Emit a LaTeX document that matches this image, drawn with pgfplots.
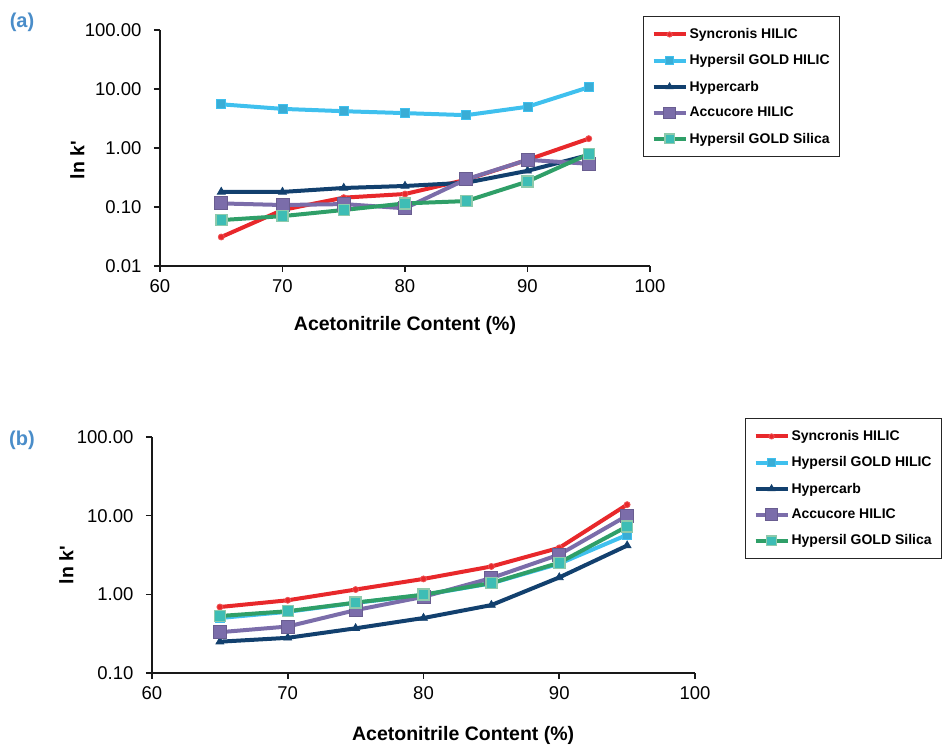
\documentclass[border=0pt]{standalone}
\usepackage{fontspec}
\setmainfont{Liberation Sans}
\newfontfamily\plainf{Liberation Sans}
\usepackage{pgfplots}
\pgfplotsset{compat=1.18}
\definecolor{cred}{HTML}{E8282B}
\definecolor{cblue}{HTML}{3FC0EE}
\definecolor{cnavy}{HTML}{12406E}
\definecolor{cpurp}{HTML}{7B6DAA}
\definecolor{cgreen}{HTML}{2F9F68}
\definecolor{cteal}{HTML}{3DBDB5}
\definecolor{cpanel}{HTML}{4A8DC9}
\pgfplotsset{
 myaxis/.style={
  scale only axis, xmin=60, xmax=100, xtick={60,70,80,90,100},
  axis x line*=bottom, axis y line*=left,
  axis line style={line width=2.2pt, black!90},
  tick style={line width=1.6pt, black!90},
  major tick length=6pt,
  tick align=outside,
  yminorticks=false,
  tick label style={font=\fontsize{18.5}{20}\selectfont},
  yticklabel style={xshift=-9pt},
  xticklabel style={yshift=-4pt},
  /pgf/number format/assume math mode=true,
  label style={font=\bfseries\fontsize{19.5}{22}\selectfont},
  every axis plot/.append style={line width=4pt},
  legend cell align=left,
  legend image code/.code={\draw[mark repeat=2,mark phase=2,##1,every mark/.append style={scale=0.88}] plot coordinates {(0pt,0pt)(16pt,0pt)(32pt,0pt)};},
  legend style={font=\bfseries\fontsize{14}{16}\selectfont, draw=black!85, line width=1.2pt, anchor=north west, row sep=10.5pt, inner xsep=8pt, inner ysep=10pt},
 },
 sred/.style={color=cred, mark=*, mark size=3pt, mark options={line width=0.8pt, fill=cred, draw=cred!80!white}},
 sblue/.style={color=cblue, mark=square*, mark size=4.5pt, mark options={line width=0.8pt, fill=cblue!90!black, draw=cblue}},
 snavy/.style={color=cnavy, mark=triangle*, mark size=4.5pt, mark options={line width=0.8pt, fill=cnavy, draw=cnavy}},
 spurp/.style={color=cpurp, mark=square*, mark size=6.5pt, mark options={line width=1pt, fill=cpurp, draw=cpurp!85!black}},
 sgreen/.style={color=cgreen, mark=square*, mark size=5.5pt, mark options={line width=1.5pt, fill=cteal, draw=cgreen!55!white}},
}
\begin{document}
\begin{tikzpicture}
\useasboundingbox (0pt,0pt) rectangle (945pt,746pt);
\node[font=\bfseries\fontsize{20}{22}\selectfont, text=cpanel] at (22pt,724pt) {(a)};
\node[font=\bfseries\fontsize{20}{22}\selectfont, text=cpanel] at (22pt,306pt) {(b)};
% Panel (a)
\begin{axis}[ymode=log, myaxis, at={(160pt,480pt)}, anchor=south west, width=490pt, height=236pt,
  ymin=0.01, ymax=100, ytick={0.01,0.1,1,10,100},
  yticklabels={0.01,0.10,1.00,10.00,100.00},
  xlabel={Acetonitrile Content (\%)}, ylabel={ln k{\plainf '}},
  xlabel style={at={(axis description cs:0.5,-0.254)}, anchor=center},
  ylabel style={at={(axis description cs:-0.169,0.449)}, anchor=center},
  legend style={at={(axis description cs:0.9857,1.059)}}]
\addplot[sred] coordinates {(65,0.031) (70,0.089) (75,0.144) (80,0.166) (85,0.29) (90,0.63) (95,1.44)};
\addlegendentry{Syncronis HILIC\hspace{14pt}}
\addplot[sblue] coordinates {(65,5.5) (70,4.6) (75,4.2) (80,3.9) (85,3.6) (90,5.0) (95,10.7)};
\addlegendentry{Hypersil GOLD HILIC}
\addplot[snavy] coordinates {(65,0.18) (70,0.18) (75,0.21) (80,0.227) (85,0.258) (90,0.41) (95,0.76)};
\addlegendentry{Hypercarb}
\addplot[spurp] coordinates {(65,0.115) (70,0.108) (75,0.112) (80,0.095) (85,0.295) (90,0.63) (95,0.54)};
\addlegendentry{Accucore HILIC}
\addplot[sgreen] coordinates {(65,0.06) (70,0.070) (75,0.089) (80,0.115) (85,0.126) (90,0.27) (95,0.79)};
\addlegendentry{Hypersil GOLD Silica}
\end{axis}
% Panel (b)
\begin{axis}[ymode=log, myaxis, at={(152pt,73pt)}, anchor=south west, width=543pt, height=236pt,
  ymin=0.1, ymax=100, ytick={0.1,1,10,100},
  yticklabels={0.10,1.00,10.00,100.00},
  xlabel={Acetonitrile Content (\%)}, ylabel={ln k{\plainf '}},
  xlabel style={at={(axis description cs:0.573,-0.263)}, anchor=center},
  ylabel style={at={(axis description cs:-0.158,0.458)}, anchor=center},
  legend style={at={(axis description cs:1.092,1.0805)}}]
\addplot[sred] coordinates {(65,0.69) (70,0.84) (75,1.15) (80,1.57) (85,2.26) (90,3.9) (95,13.8)};
\addlegendentry{Syncronis HILIC}
\addplot[sblue] coordinates {(65,0.50) (70,0.60) (75,0.78) (80,0.98) (85,1.38) (90,2.45) (95,5.7)};
\addlegendentry{Hypersil GOLD HILIC}
\addplot[snavy] coordinates {(65,0.25) (70,0.28) (75,0.37) (80,0.50) (85,0.73) (90,1.64) (95,4.17)};
\addlegendentry{Hypercarb}
\addplot[spurp] coordinates {(65,0.33) (70,0.39) (75,0.63) (80,0.93) (85,1.61) (90,3.2) (95,10.0)};
\addlegendentry{Accucore HILIC}
\addplot[sgreen] coordinates {(65,0.53) (70,0.61) (75,0.785) (80,0.99) (85,1.39) (90,2.52) (95,7.3)};
\addlegendentry{Hypersil GOLD Silica}
\end{axis}
\end{tikzpicture}
\end{document}
